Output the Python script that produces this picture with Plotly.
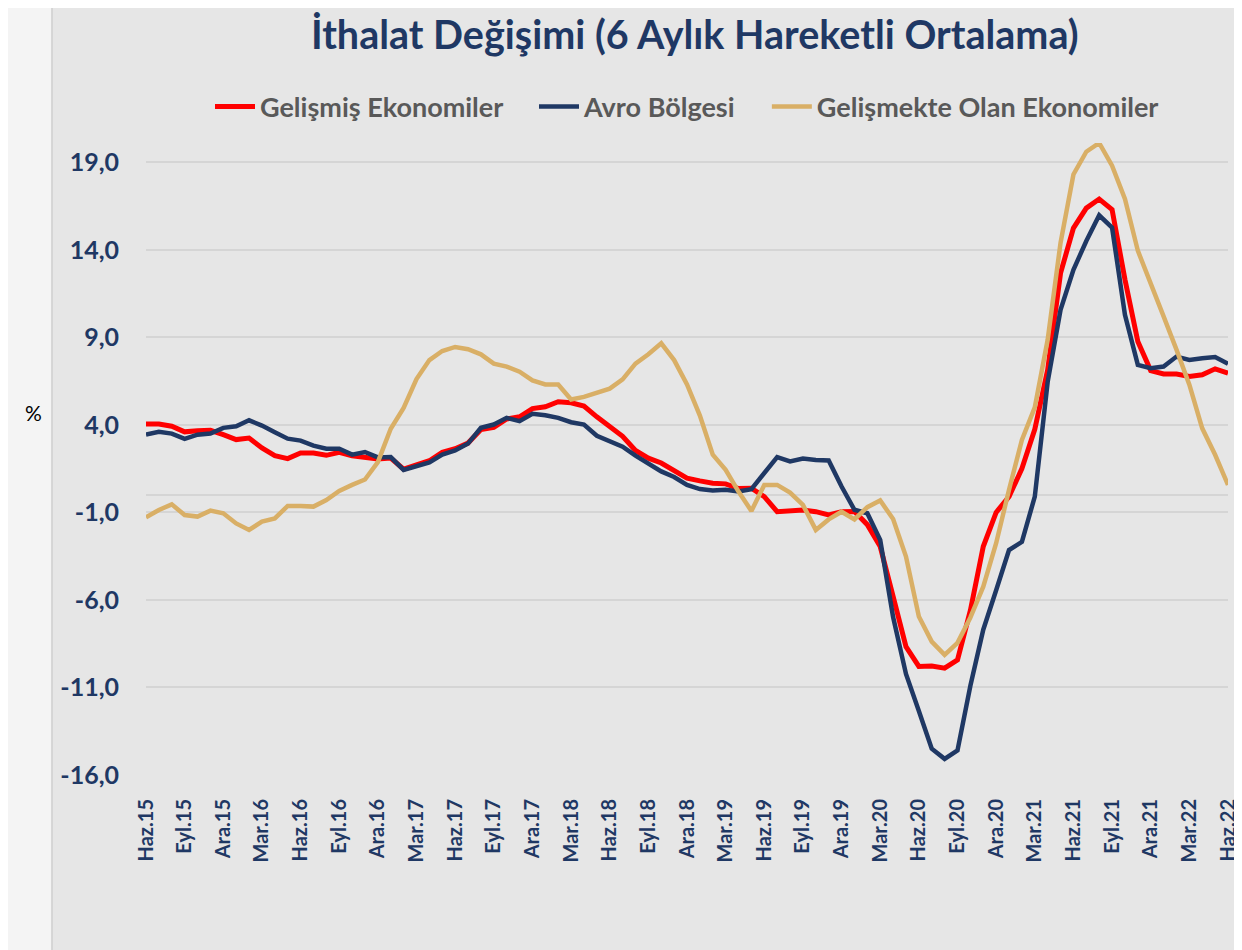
import plotly.graph_objects as go

# aylar: Haz.15 - Haz.22 (aylık, 85 nokta)
aylar = list(range(85))
etiket_pos = list(range(0, 85, 3))
etiketler = ["Haz.15", "Eyl.15", "Ara.15", "Mar.16", "Haz.16", "Eyl.16", "Ara.16", "Mar.17",
             "Haz.17", "Eyl.17", "Ara.17", "Mar.18", "Haz.18", "Eyl.18", "Ara.18", "Mar.19",
             "Haz.19", "Eyl.19", "Ara.19", "Mar.20", "Haz.20", "Eyl.20", "Ara.20", "Mar.21",
             "Haz.21", "Eyl.21", "Ara.21", "Mar.22", "Haz.22"]

gelismis = [4.05, 4.05, 3.92, 3.6, 3.67, 3.69, 3.44, 3.16, 3.25, 2.68,
            2.24, 2.07, 2.39, 2.39, 2.26, 2.43, 2.24, 2.15, 2.05, 2.1,
            1.47, 1.72, 1.95, 2.43, 2.64, 2.96, 3.73, 3.86, 4.34, 4.46,
            4.93, 5.03, 5.32, 5.26, 5.07, 4.46, 3.9, 3.35, 2.54, 2.1,
            1.82, 1.43, 0.96, 0.8, 0.67, 0.63, 0.36, 0.38, -0.1, -0.96,
            -0.92, -0.86, -0.96, -1.15, -0.96, -0.95, -1.7, -2.95, -5.8, -8.67,
            -9.8, -9.77, -9.9, -9.43, -6.6, -2.95, -1.0, -0.1, 1.5, 3.75,
            7.14, 12.67, 15.24, 16.38, 16.9, 16.3, 12.3, 8.76, 7.1, 6.91,
            6.9, 6.76, 6.86, 7.2, 6.95]

avro = [3.44, 3.6, 3.5, 3.2, 3.44, 3.5, 3.83, 3.92, 4.26, 3.96,
        3.58, 3.21, 3.1, 2.81, 2.64, 2.64, 2.3, 2.45, 2.14, 2.16,
        1.43, 1.65, 1.85, 2.3, 2.54, 2.93, 3.83, 4.02, 4.4, 4.21,
        4.63, 4.55, 4.4, 4.15, 4.02, 3.38, 3.05, 2.75, 2.24, 1.82,
        1.34, 1.02, 0.57, 0.33, 0.25, 0.29, 0.19, 0.33, 1.24, 2.16,
        1.91, 2.08, 2.0, 1.97, 0.48, -0.85, -1.05, -2.58, -6.98, -10.23,
        -12.34, -14.5, -15.08, -14.6, -10.9, -7.7, -5.45, -3.15, -2.68, -0.1,
        6.45, 10.57, 12.86, 14.5, 15.97, 15.27, 10.29, 7.43, 7.24, 7.33,
        7.9, 7.71, 7.81, 7.87, 7.49]

gelismekte = [-1.28, -0.86, -0.54, -1.15, -1.24, -0.9, -1.05, -1.63, -2.0, -1.53,
              -1.34, -0.63, -0.63, -0.67, -0.29, 0.23, 0.57, 0.88, 1.87, 3.78,
              4.97, 6.62, 7.7, 8.22, 8.45, 8.32, 8.03, 7.5, 7.33, 7.04,
              6.54, 6.31, 6.31, 5.45, 5.6, 5.83, 6.07, 6.6, 7.5, 8.03,
              8.66, 7.7, 6.31, 4.53, 2.3, 1.43, 0.19, -0.92, 0.57, 0.57,
              0.13, -0.57, -2.0, -1.4, -0.96, -1.4, -0.7, -0.32, -1.38, -3.52,
              -6.95, -8.38, -9.14, -8.45, -7.0, -5.24, -2.76, 0.29, 3.14, 5.0,
              8.86, 14.4, 18.3, 19.6, 20.1, 18.8, 16.9, 13.95, 12.0, 10.2,
              8.3, 6.3, 3.8, 2.29, 0.57]

y_ticks = [-16, -11, -6, -1, 4, 9, 14, 19]
y_etiket = ["-16,0", "-11,0", "-6,0", "-1,0", "4,0", "9,0", "14,0", "19,0"]

LACI = "#1f3864"
FONT = "Lato"
BOSLUK = "&nbsp;" * 4  # legend ogeleri arasi bosluk

fig = go.Figure()
fig.add_trace(go.Scatter(x=aylar, y=gelismis, mode="lines", name="Gelişmiş Ekonomiler" + BOSLUK,
                         line=dict(color="#ff0000", width=5)))
fig.add_trace(go.Scatter(x=aylar, y=avro, mode="lines", name="Avro Bölgesi" + BOSLUK,
                         line=dict(color=LACI, width=4.5)))
fig.add_trace(go.Scatter(x=aylar, y=gelismekte, mode="lines", name="Gelişmekte Olan Ekonomiler",
                         line=dict(color="#d9af66", width=4.5)))

# soldaki açık renkli şerit
fig.add_shape(type="rect", xref="paper", yref="paper", x0=-0.15, x1=-0.0869, y0=-0.3, y1=1.25,
              fillcolor="#f4f4f4", line=dict(width=0), layer="below")
fig.add_shape(type="line", xref="paper", yref="paper", x0=-0.0869, x1=-0.0869, y0=-0.3, y1=1.25,
              line=dict(color="#cfcfcf", width=1.5), layer="below")

fig.add_annotation(text="%", xref="paper", yref="paper", x=-0.1044, y=0.573, showarrow=False,
                   xanchor="center", yanchor="middle",
                   font=dict(family=FONT, size=21, color="#000000"))

fig.update_layout(
    width=1242, height=950,
    paper_bgcolor="#e6e6e6", plot_bgcolor="#e6e6e6",
    margin=dict(l=138, r=22, t=135, b=183),
    title=dict(text="<b>İthalat Değişimi (6 Aylık Hareketli Ortalama)</b>", x=0.553, xanchor="center",
               y=0.9716, yanchor="middle", font=dict(family=FONT, size=39.5, color=LACI)),
    legend=dict(orientation="h", x=0.5, xanchor="center", y=1.057, yanchor="middle",
                font=dict(family=FONT, size=27, color="#595959", weight="bold"),
                bgcolor="rgba(0,0,0,0)", itemwidth=40, tracegroupgap=0),
    showlegend=True,
)
fig.update_xaxes(range=[0, 84], tickvals=etiket_pos, ticktext=etiketler, tickangle=-90,
                 showgrid=False, zeroline=False, showline=False, ticks="",
                 ticklabelstandoff=19,
                 tickfont=dict(family=FONT, size=20, color=LACI, weight="bold"))
fig.update_yaxes(range=[-16, 20.1], tickvals=y_ticks, ticktext=y_etiket,
                 showgrid=True, gridcolor="#d5d5d5", gridwidth=2,
                 zeroline=True, zerolinecolor="#d5d5d5", zerolinewidth=2,
                 showline=False, ticks="", ticklabelstandoff=26,
                 tickfont=dict(family=FONT, size=25, color=LACI, weight="bold"))

fig.write_html("out.html")
